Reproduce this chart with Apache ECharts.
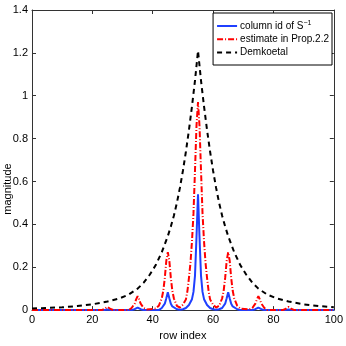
<!DOCTYPE html>
<html lang="en" style="height: 100%">
  <head>
    <meta charset="utf-8" />
  </head>
  <body style="height: 100%; margin: 0; background: #fff">
    <div id="container" style="width: 346px; height: 346px"></div>

    <script src="https://fastly.jsdelivr.net/npm/echarts@6/dist/echarts.min.js"></script>
    <script>
      // [row index, magnitude]
      var seriesNames = ["column id of S^-1", "estimate in Prop.2.2", "Demkoetal"];

      var blueCurve = [
        [0, 0], [22, 0], [24, 0.001], [25, 0.003], [26, 0.001], [28, 0],
        [33, 0], [34, 0.004], [35, 0.012], [36, 0.004], [37, 0],
        [42, 0], [43, 0.01], [43.5, 0.017], [44, 0.03], [44.5, 0.055], [45, 0.083],
        [45.5, 0.055], [46, 0.03], [46.5, 0.017], [47, 0.01], [48, 0.004], [49, 0.002],
        [50, 0.004], [51, 0.01], [52, 0.024], [53, 0.051], [53.5, 0.085], [54, 0.16],
        [54.5, 0.34], [55, 0.54], [55.5, 0.34], [56, 0.16], [56.5, 0.085], [57, 0.051],
        [58, 0.024], [59, 0.01], [60, 0.004], [61, 0.002], [62, 0.004], [63, 0.01],
        [63.5, 0.017], [64, 0.03], [64.5, 0.055], [65, 0.083], [65.5, 0.055], [66, 0.03],
        [66.5, 0.017], [67, 0.01], [68, 0.004], [69, 0],
        [73, 0], [74, 0.004], [75, 0.012], [76, 0.004], [77, 0],
        [82, 0], [84, 0.001], [85, 0.003], [86, 0.001], [88, 0], [100, 0]
      ];

      var redCurve = [
        [0, 0], [23, 0], [24, 0.005], [25, 0.015], [26, 0.005], [27, 0],
        [32, 0], [33, 0.01], [34, 0.03], [34.5, 0.05], [35, 0.065], [35.5, 0.05],
        [36, 0.03], [37, 0.01], [38, 0.003], [41, 0.007], [42, 0.02], [43, 0.055],
        [43.5, 0.09], [44, 0.15], [44.5, 0.23], [45, 0.27], [45.5, 0.23], [46, 0.15],
        [46.5, 0.09], [47, 0.055], [48, 0.02], [49, 0.012], [50, 0.025], [51, 0.05],
        [51.5, 0.09], [52, 0.15], [52.5, 0.22], [53, 0.32], [53.5, 0.45], [54, 0.65],
        [54.5, 0.86], [55, 0.97], [55.5, 0.86], [56, 0.65], [56.5, 0.45], [57, 0.32],
        [57.5, 0.22], [58, 0.15], [58.5, 0.09], [59, 0.05], [60, 0.025], [61, 0.012],
        [62, 0.02], [63, 0.055], [63.5, 0.09], [64, 0.15], [64.5, 0.23], [65, 0.27],
        [65.5, 0.23], [66, 0.15], [66.5, 0.09], [67, 0.055], [68, 0.02], [69, 0.007],
        [72, 0.003], [73, 0.01], [74, 0.03], [74.5, 0.05], [75, 0.065], [75.5, 0.05],
        [76, 0.03], [77, 0.01], [78, 0], [83, 0], [84, 0.005], [85, 0.015],
        [86, 0.005], [87, 0], [100, 0]
      ];

      var blackCurve = [
        [0, 0.008], [5, 0.01], [10, 0.013], [15, 0.019], [20, 0.027], [25, 0.04],
        [29, 0.055], [32, 0.072], [35, 0.1], [37, 0.128], [39, 0.165], [41, 0.21],
        [43, 0.27], [45, 0.345], [46, 0.39], [47, 0.44], [48, 0.5], [49, 0.57],
        [50, 0.65], [51, 0.74], [52, 0.84], [53, 0.95], [54, 1.07], [55, 1.21],
        [56, 1.07], [57, 0.95], [58, 0.84], [59, 0.74], [60, 0.65], [61, 0.57],
        [62, 0.5], [63, 0.44], [64, 0.39], [65, 0.345], [67, 0.27], [69, 0.21],
        [71, 0.165], [73, 0.128], [75, 0.1], [78, 0.072], [81, 0.055], [85, 0.04],
        [90, 0.027], [95, 0.019], [100, 0.013]
      ];

      var font = "Liberation Sans";
      var frame = "#333";

      var dom = document.getElementById("container");
      var myChart = echarts.init(dom, null, { renderer: "canvas" });

      function boxAxis(pos, min, max, interval, labels) {
        return {
          type: "value",
          position: pos,
          min: min,
          max: max,
          interval: interval,
          axisLine: { show: true, onZero: false, lineStyle: { color: frame, width: 1 } },
          axisTick: { show: true, inside: true, length: 4, lineStyle: { color: frame } },
          axisLabel: {
            show: labels,
            color: "#000",
            fontFamily: font,
            fontSize: 11,
            margin: 4
          },
          splitLine: { show: false }
        };
      }

      var xBottom = boxAxis("bottom", 0, 100, 20, true);
      xBottom.name = "row index";
      xBottom.nameLocation = "middle";
      xBottom.nameGap = 19;
      xBottom.nameTextStyle = { color: "#000", fontFamily: font, fontSize: 11 };

      var option = {
        animation: false,
        backgroundColor: "#fff",
        grid: { left: 32, right: 12, top: 10, bottom: 33, containLabel: false },
        xAxis: [xBottom, boxAxis("top", 0, 100, 20, false)],
        yAxis: [boxAxis("left", 0, 1.4, 0.2, true), boxAxis("right", 0, 1.4, 0.2, false)],
        legend: {
          orient: "vertical",
          right: 14,
          top: 13,
          padding: [7, 3, 7, 3],
          itemGap: 2,
          itemWidth: 20,
          itemHeight: 14,
          borderColor: "#000",
          borderWidth: 1,
          backgroundColor: "#fff",
          itemStyle: { opacity: 0 },
          data: seriesNames,
          formatter: function (name) {
            if (name === seriesNames[0]) return "{a|column id of S}{s|\u22121}";
            return "{a|" + name + "}";
          },
          textStyle: {
            padding: [0, 0, 0, -2],
            rich: {
              a: { fontFamily: font, fontSize: 10, color: "#000" },
              s: { fontFamily: font, fontSize: 7, color: "#000", verticalAlign: "top", padding: [0, 0, 5, 0] }
            }
          }
        },
        graphic: [
          {
            type: "text",
            x: 8,
            y: 189,
            rotation: Math.PI / 2,
            style: {
              text: "magnitude",
              fontFamily: font,
              fontSize: 11,
              fill: "#000",
              textAlign: "center",
              textVerticalAlign: "middle"
            }
          }
        ],
        series: [
          {
            name: seriesNames[0],
            type: "line",
            data: blueCurve,
            showSymbol: false,
            symbol: "none",
            lineStyle: { color: "#1f3fff", width: 2 },
            itemStyle: { color: "#1f3fff" }
          },
          {
            name: seriesNames[1],
            type: "line",
            data: redCurve,
            showSymbol: false,
            symbol: "none",
            lineStyle: { color: "#ff0000", width: 2, type: [6, 2, 1, 2] },
            itemStyle: { color: "#ff0000" }
          },
          {
            name: seriesNames[2],
            type: "line",
            data: blackCurve,
            showSymbol: false,
            symbol: "none",
            lineStyle: { color: "#000", width: 2, type: [5, 4] },
            itemStyle: { color: "#000" }
          }
        ]
      };

      myChart.setOption(option);
    </script>
  </body>
</html>
